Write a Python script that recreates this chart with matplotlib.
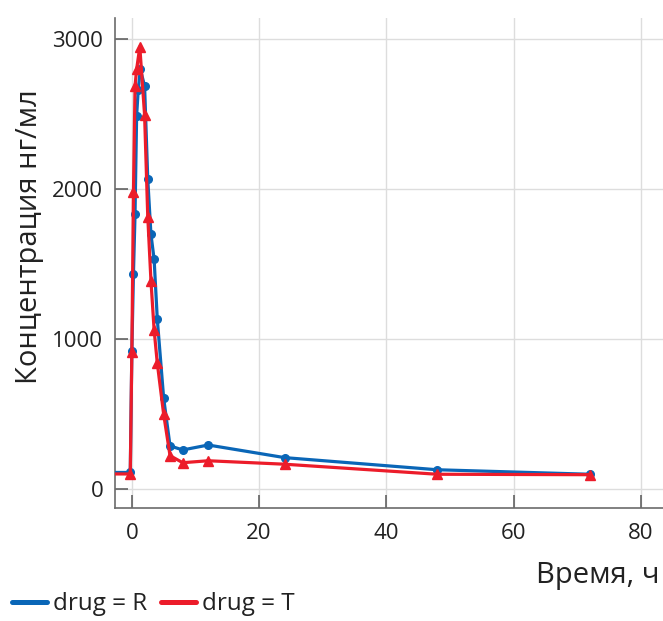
import matplotlib
matplotlib.use("Agg")
import matplotlib.pyplot as plt
import numpy as np
from matplotlib.lines import Line2D

## mean concentration curves
time_r = [-5, -0.25, 0, 0.25, 0.5, 0.75, 1, 1.33, 2, 2.5, 3, 3.5, 4, 5, 6, 8, 12, 24, 48, 72]
conc_r = [112, 112, 925, 1435, 1835, 2491, 2662, 2800, 2689, 2068, 1700, 1533, 1133, 607, 289, 262, 295, 211, 130, 100]

time_t = [-5, -0.25, 0, 0.25, 0.5, 0.75, 1.25, 2, 2.5, 3, 3.5, 4, 5, 6, 8, 12, 24, 48, 72]
conc_t = [102, 102, 918, 1980, 2688, 2800, 2950, 2495, 1817, 1391, 1062, 840, 500, 224, 177, 190, 167, 100, 97]

x_ticks = [0, 20, 40, 60, 80]
y_ticks = [0, 1000, 2000, 3000]

blue = '#0a66b7'
red = '#ec1c2a'

plt.rcParams['font.family'] = ['Open Sans', 'DejaVu Sans']
plt.rcParams['font.size'] = 16

fig = plt.figure(figsize=(6.63, 6.21), dpi=100)
ax = fig.add_axes([115/663, 113/621, 548/663, 490/621])

ax.plot(time_r, conc_r, color=blue, lw=2.3, marker='o', ms=5.5, label='drug = R', zorder=3)
ax.plot(time_t, conc_t, color=red, lw=2.3, marker='^', ms=7, label='drug = T', zorder=4)

ax.set_xlim(-2.65, 83.5)
ax.set_ylim(-125, 3142)
ax.set_xticks(x_ticks)
ax.set_yticks(y_ticks)

ax.grid(True, color='#dddddd', lw=1.0)
ax.set_axisbelow(True)
for s in ['top', 'right']:
    ax.spines[s].set_visible(False)
for s in ['left', 'bottom']:
    ax.spines[s].set_color('#6b6b6b')
    ax.spines[s].set_linewidth(1.2)

ax.tick_params(axis='both', direction='in', length=9.5, width=1.1, color='#555555',
               labelsize=16, labelcolor='#222222')
ax.tick_params(axis='x', pad=11)
ax.tick_params(axis='y', pad=8.5)

fig.text(30/663, 1 - 237/621, 'Концентрация нг/мл', rotation=90, ha='center', va='center',
         fontsize=21, color='#222222')
fig.text(660/663, 1 - 575/621, 'Время, ч', ha='right', va='center', fontsize=21, color='#222222')

handles = [Line2D([], [], color=blue, lw=3.6, solid_capstyle='round'),
           Line2D([], [], color=red, lw=3.6, solid_capstyle='round')]
fig.legend(handles, ['drug = R', 'drug = T'], loc='lower left', bbox_to_anchor=(-0.008, -0.02),
           ncol=2, frameon=False, fontsize=17.5, handlelength=1.45, handletextpad=0.25,
           columnspacing=0.55, borderpad=0.2, labelcolor='#222222')

fig.savefig('out.png', dpi=100)
